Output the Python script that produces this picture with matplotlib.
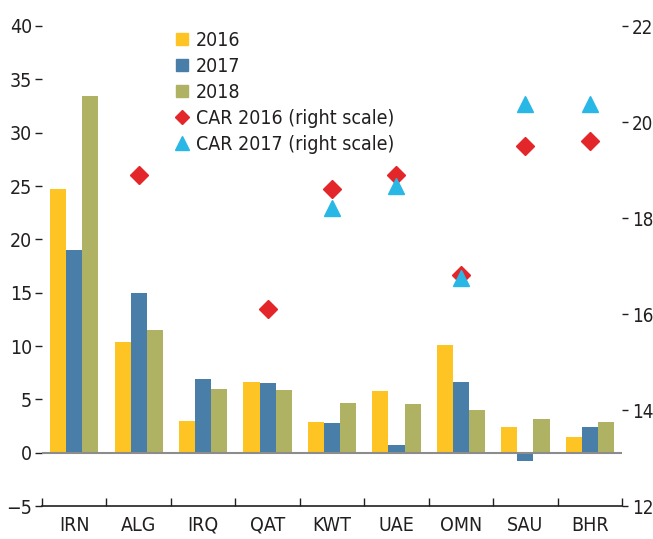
import matplotlib
matplotlib.use("Agg")
import matplotlib.pyplot as plt
from matplotlib.lines import Line2D
import numpy as np

plt.rcParams['font.family'] = ['DejaVu Sans']
plt.rcParams['font.stretch'] = 'condensed'

# data
countries = ["IRN", "ALG", "IRQ", "QAT", "KWT", "UAE", "OMN", "SAU", "BHR"]
y2016 = [24.7, 10.4, 3.0, 6.6, 2.9, 5.8, 10.1, 2.4, 1.5]
y2017 = [19.0, 15.0, 6.9, 6.5, 2.8, 0.7, 6.6, -0.8, 2.4]
y2018 = [33.4, 11.5, 6.0, 5.9, 4.7, 4.6, 4.0, 3.2, 2.9]
car2016 = [np.nan, 18.9, np.nan, 16.1, 18.6, 18.9, 16.82, 19.5, 19.6]
car2017 = [np.nan, np.nan, np.nan, np.nan, 18.2, 18.67, 16.76, 20.38, 20.38]

c16 = "#FDC423"
c17 = "#497EA8"
c18 = "#AFB262"
cred = "#E2262A"
ccyan = "#29B8E5"
txt = "#231f20"

fig = plt.figure(figsize=(6.53, 5.39), dpi=100)
ax = fig.add_axes([42 / 653, 33 / 539, 580 / 653, 480 / 539])
ax2 = ax.twinx()

x = np.arange(len(countries))
w = 0.25
ax.bar(x - w, y2016, w, color=c16, zorder=2)
ax.bar(x, y2017, w, color=c17, zorder=2)
ax.bar(x + w, y2018, w, color=c18, zorder=2)
ax.axhline(0, color="#8c8c8c", lw=1.5, zorder=3)

ax2.plot(x, car2016, ls="none", marker="D", ms=9, color=cred, zorder=4)
ax2.plot(x, car2017, ls="none", marker="^", ms=11, color=ccyan, zorder=4)

ax.set_xlim(-0.5, len(countries) - 0.5)
ax.set_ylim(-5, 40)
ax.set_yticks(range(-5, 41, 5))
ax.set_yticklabels(["\u22125"] + [str(v) for v in range(0, 41, 5)])
ax2.set_ylim(12, 22)
ax2.set_yticks(range(12, 23, 2))

ax.set_xticks(x)
ax.set_xticklabels(countries)
ax.set_xticks(np.arange(-0.5, len(countries)), minor=True)
ax.tick_params(axis="x", which="major", length=0, pad=7, labelsize=14, colors=txt)
ax.tick_params(axis="x", which="minor", direction="in", length=6, width=1, color=txt)
ax.tick_params(axis="y", length=5, width=1, pad=2, labelsize=14, colors=txt)
ax2.tick_params(axis="y", length=4, width=1, pad=3, labelsize=13.5, colors=txt)

for a in (ax, ax2):
    for s in ("top", "left", "right"):
        a.spines[s].set_visible(False)
ax2.spines["bottom"].set_visible(False)
ax.spines["bottom"].set_color(txt)
ax.spines["bottom"].set_linewidth(1.2)

handles = [
    Line2D([], [], ls="none", marker="s", ms=9, color=c16),
    Line2D([], [], ls="none", marker="s", ms=9, color=c17),
    Line2D([], [], ls="none", marker="s", ms=9, color=c18),
    Line2D([], [], ls="none", marker="D", ms=7.5, color=cred),
    Line2D([], [], ls="none", marker="^", ms=10, color=ccyan),
]
labels = ["2016", "2017", "2018", "CAR 2016 (right scale)", "CAR 2017 (right scale)"]
fig.legend(handles, labels, loc="upper left", bbox_to_anchor=(164 / 653, 1 - 21 / 539),
           frameon=False, fontsize=14, handlelength=0.9, handletextpad=0.25,
           labelspacing=0.36, borderpad=0, labelcolor=txt)

fig.savefig("out.png", dpi=100)
